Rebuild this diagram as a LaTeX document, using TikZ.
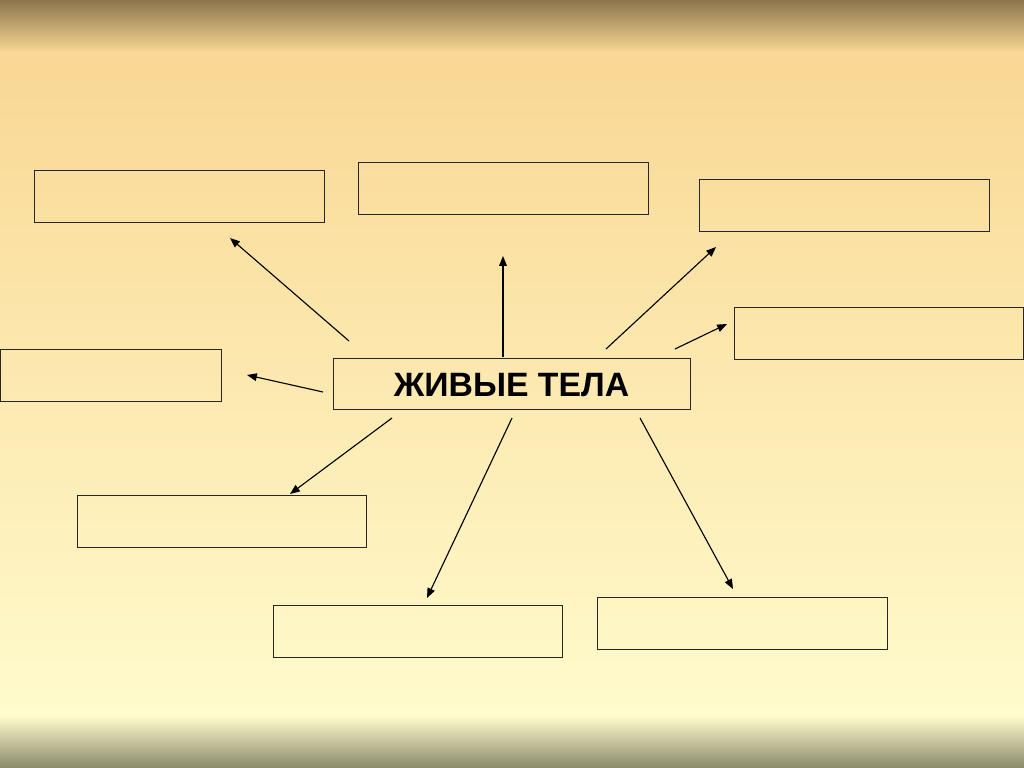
\documentclass[tikz,border=0pt]{standalone}
\usepackage{fontspec}
\setmainfont{Liberation Sans}
\usetikzlibrary{calc, arrows.meta}
\definecolor{bandtop}{RGB}{139, 117, 78}
\definecolor{sandtop}{RGB}{249, 215, 148}
\definecolor{sandbot}{RGB}{255, 251, 204}
\definecolor{bandbot}{RGB}{138, 138, 106}
\tikzset{
  emptybox/.style={draw=black!85, line width=0.65pt, fill=none},
  spoke/.style={-{Triangle[length=7pt, width=5.5pt]}, line width=0.8pt, black}
}

\begin{document}
\begin{tikzpicture}[x=0.025cm, y=-0.025cm]
        % background
        \useasboundingbox (0,0) rectangle (1024,768);
        \fill[top color=bandtop, bottom color=sandtop] (0,0) rectangle (1024,52);
        \fill[top color=sandtop, bottom color=sandbot] (0,52) rectangle (1024,716);
        \fill[top color=sandbot, bottom color=bandbot] (0,716) rectangle (1024,768);
        % centre
        \draw[emptybox] (333,358) rectangle (690,409);
        \node[font=\bfseries\fontsize{24}{28}\selectfont] (tela) at (511.5,385) {ЖИВЫЕ ТЕЛА};
        % empty boxes
        \foreach \x/\y/\w/\name in {34/170/290/b1, 358/162/290/b2, 699/179/290/b3, 734/307/289/b4,
                                    0/349/221/b5, 77/495/289/b6, 273/605/289/b7, 597/597/290/b8}
          \draw[emptybox] (\x,\y) rectangle ++(\w,52) coordinate (\name);
        % spokes
        \foreach \a/\b/\c/\d in {349/341/230/238, 503/357/503/256, 606/349/716/247, 675/349/727/324,
                                 323/392/247/375, 392/418/290/494, 512/418/427/598, 640/418/733/589}
          \draw[spoke] (\a,\b) coordinate (s) -- (\c,\d) coordinate (h);
\end{tikzpicture}
\end{document}
